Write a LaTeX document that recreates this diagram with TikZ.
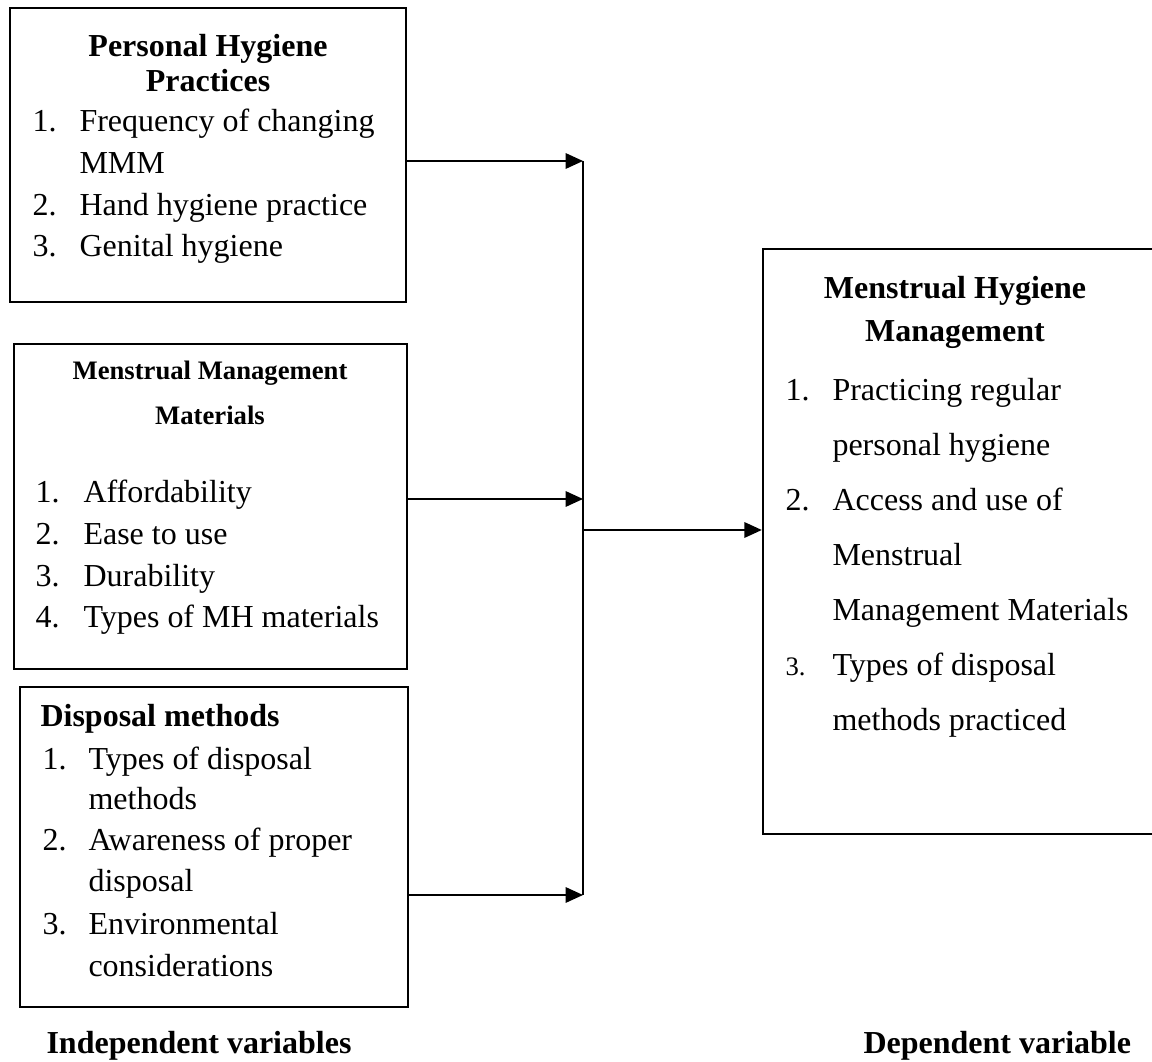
\documentclass[tikz,border=0pt]{standalone}
\usepackage{fontspec}
\setmainfont{Liberation Serif}
\usetikzlibrary{arrows.meta,fit}
\begin{document}
\begin{tikzpicture}[x=0.375pt,y=-0.375pt,
  boxshape/.style={draw, line width=0.9pt, inner sep=0pt},
  txt/.style={inner sep=0pt, anchor=base west, font=\fontsize{12}{14}\selectfont},
  smalltxt/.style={inner sep=0pt, anchor=base west, font=\fontsize{10}{12}\selectfont},
  ttl/.style={inner sep=0pt, anchor=base, font=\fontsize{12}{14}\selectfont\bfseries},
  smallttl/.style={inner sep=0pt, anchor=base, font=\fontsize{10}{12}\selectfont\bfseries},
  ttlw/.style={inner sep=0pt, anchor=base west, font=\fontsize{12}{14}\selectfont\bfseries},
  conn/.style={line width=0.6pt, -{Triangle[length=6.5pt,width=5.8pt]}},
  vline/.style={line width=0.8pt}
]
\useasboundingbox (0,0) rectangle (1152,1062);

% boxes
\node[boxshape, fit={(10,8) (406,302)}] (b1) {};
\node[boxshape, fit={(14,344) (407,669)}] (b2) {};
\node[boxshape, fit={(20,687) (408,1007)}] (b3) {};
\node[boxshape, fit={(763,249) (1158,834)}] (rb) {};

% box 1 text
\node[ttl] (b1h1) at (208,57) {Personal Hygiene};
\node[ttl] (b1h2) at (208,92) {Practices};
\node[txt] (b1n1) at (32,132) {1.};
\node[txt] (b1i1) at (79,132) {Frequency of changing};
\node[txt] (b1i1b) at (79,174) {MMM};
\node[txt] (b1n2) at (32,216) {2.};
\node[txt] (b1i2) at (79,216) {Hand hygiene practice};
\node[txt] (b1n3) at (32,257) {3.};
\node[txt] (b1i3) at (79,257) {Genital hygiene};

% box 2 text
\node[smallttl] (b2h1) at (210,380) {Menstrual Management};
\node[smallttl] (b2h2) at (210,425) {Materials};
\node[txt] (b2n1) at (35,503) {1.};
\node[txt] (b2i1) at (83,503) {Affordability};
\node[txt] (b2n2) at (35,545) {2.};
\node[txt] (b2i2) at (83,545) {Ease to use};
\node[txt] (b2n3) at (35,587) {3.};
\node[txt] (b2i3) at (83,587) {Durability};
\node[txt] (b2n4) at (35,628) {4.};
\node[txt] (b2i4) at (83,628) {Types of MH materials};

% box 3 text
\node[ttlw] (b3h) at (40,727) {Disposal methods};
\node[txt] (b3n1) at (42,770) {1.};
\node[txt] (b3i1) at (88,770) {Types of disposal};
\node[txt] (b3i1b) at (88,810) {methods};
\node[txt] (b3n2) at (42,851) {2.};
\node[txt] (b3i2) at (88,851) {Awareness of proper};
\node[txt] (b3i2b) at (88,892) {disposal};
\node[txt] (b3n3) at (42,935) {3.};
\node[txt] (b3i3) at (88,935) {Environmental};
\node[txt] (b3i3b) at (88,977) {considerations};

% right box text
\node[ttl] (rbh1) at (955,299) {Menstrual Hygiene};
\node[ttl] (rbh2) at (955,342) {Management};
\node[txt] (rbn1) at (785,401) {1.};
\node[txt] (rbi1) at (832,401) {Practicing regular};
\node[txt] (rbi1b) at (832,456) {personal hygiene};
\node[txt] (rbn2) at (785,511) {2.};
\node[txt] (rbi2) at (832,511) {Access and use of};
\node[txt] (rbi2b) at (832,566) {Menstrual};
\node[txt] (rbi2c) at (832,621) {Management Materials};
\node[smalltxt] (rbn3) at (785,676) {3.};
\node[txt] (rbi3) at (832,676) {Types of disposal};
\node[txt] (rbi3b) at (832,731) {methods practiced};

% labels
\node[ttlw] (lind) at (46,1054) {Independent variables};
\node[ttlw] (ldep) at (863,1054) {Dependent variable};

% connectors
\coordinate (j1) at (583,161);
\coordinate (j2) at (583,499);
\coordinate (j3) at (583,895);
\coordinate (jm) at (583,530);
\draw[vline] (j1) -- (j3);
\draw[conn] (b1.east |- j1) -- (j1);
\draw[conn] (b2.east |- j2) -- (j2);
\draw[conn] (b3.east |- j3) -- (j3);
\draw[conn] (jm) -- (jm -| rb.west);
\end{tikzpicture}
\end{document}
